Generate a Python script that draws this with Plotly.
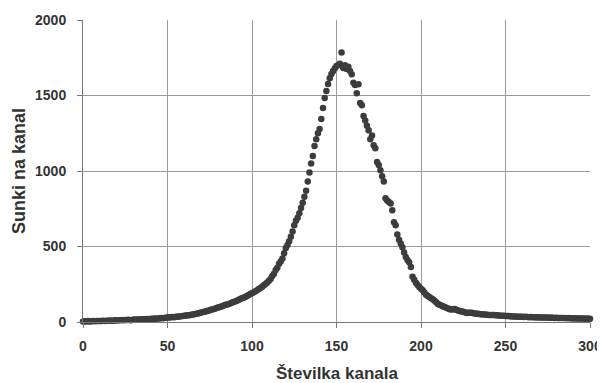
import plotly.graph_objects as go

# Channel numbers 0..300
channels = list(range(0, 301))

# Counts per channel
counts = [
    4, 5, 3, 6, 4, 5, 7, 5, 6, 6,                # 0-9
    7, 6, 8, 7, 9, 8, 10, 8, 9, 11,              # 10-19
    10, 12, 11, 13, 12, 14, 13, 15, 12, 14,      # 20-29
    16, 15, 17, 16, 18, 17, 19, 18, 20, 19,      # 30-39
    21, 20, 23, 22, 24, 23, 26, 25, 27, 28,      # 40-49
    29, 30, 31, 33, 32, 35, 34, 37, 38, 40,      # 50-59
    41, 43, 45, 44, 48, 50, 52, 54, 57, 60,      # 60-69
    63, 66, 68, 72, 75, 78, 82, 85, 88, 92,      # 70-79
    96, 99, 103, 108, 112, 116, 118, 123, 127, 132,   # 80-89
    136, 141, 145, 152, 157, 160, 166, 172, 178, 185, # 90-99
    190, 197, 204, 210, 218, 225, 234, 243, 252, 262, # 100-109
    274, 285, 305, 320, 345, 360, 385, 400, 420, 455, # 110-119
    490, 510, 535, 565, 600, 640, 670, 690, 720, 755, # 120-129
    790, 830, 870, 930, 990, 1050, 1100, 1165, 1210, 1250,   # 130-139
    1278, 1344, 1417, 1483, 1530, 1576, 1615, 1642, 1662, 1680,  # 140-149
    1695, 1700, 1710, 1785, 1682, 1700, 1675, 1690, 1662, 1640,  # 150-159
    1585, 1570, 1515, 1575, 1450, 1435, 1365, 1335, 1300, 1270,  # 160-169
    1210, 1235, 1170, 1150, 1060, 1040, 1005, 965, 930, 820,     # 170-179
    805, 795, 785, 740, 660, 640, 580, 545, 520, 495,            # 180-189
    460, 430, 410, 395, 365, 300, 280, 260, 245, 232,            # 190-199
    220, 210, 195, 180, 172, 165, 158, 150, 140, 130,            # 200-209
    120, 114, 110, 105, 100, 95, 90, 84, 82, 84,                 # 210-219
    86, 80, 76, 73, 70, 68, 64, 60, 62, 61,                      # 220-229
    62, 58, 57, 55, 54, 52, 51, 50, 49, 48,                      # 230-239
    47, 47, 46, 46, 45, 44, 43, 42, 41, 41,                      # 240-249
    40, 39, 39, 38, 37, 37, 36, 35, 35, 34,                      # 250-259
    34, 33, 34, 33, 32, 33, 31, 32, 31, 30,                      # 260-269
    31, 30, 30, 29, 30, 29, 28, 29, 28, 27,                      # 270-279
    28, 27, 27, 26, 27, 26, 25, 26, 25, 25,                      # 280-289
    24, 25, 24, 24, 23, 24, 23, 22, 23, 22,                      # 290-299
    22,                                                          # 300
]

x_ticks = [0, 50, 100, 150, 200, 250, 300]
y_ticks = [0, 500, 1000, 1500, 2000]
x_title = "Številka kanala"
y_title = "Sunki na kanal"

font_family = "Liberation Sans, Arial, sans-serif"
text_color = "#333333"
grid_color = "#9a9a9a"

fig = go.Figure()
fig.add_trace(go.Scatter(
    x=channels, y=counts, mode="markers",
    marker=dict(size=6.5, color="#3c3c3c", line=dict(width=0)),
    showlegend=False, cliponaxis=False,
))

# The page body adds an 8px offset, so the figure is 8px smaller than the window
fig.update_layout(
    width=597, height=375,
    margin=dict(l=75, r=15, t=12, b=61, autoexpand=False),
    paper_bgcolor="white", plot_bgcolor="white",
    font=dict(family=font_family, size=14, color=text_color),
)

fig.update_xaxes(
    range=[0, 300], tickvals=x_ticks, automargin=False,
    showgrid=True, gridcolor=grid_color, gridwidth=1,
    showline=True, linecolor="#777777", linewidth=1,
    ticks="outside", ticklen=5, tickcolor="#777777",
    zeroline=False,
    tickfont=dict(family=font_family, size=14, color=text_color, weight="bold"),
    ticklabelstandoff=6,
)
fig.update_yaxes(
    range=[0, 2000], tickvals=y_ticks, automargin=False,
    showgrid=True, gridcolor=grid_color, gridwidth=1,
    showline=True, linecolor="#777777", linewidth=1,
    ticks="outside", ticklen=5, tickcolor="#777777",
    zeroline=False,
    tickfont=dict(family=font_family, size=14, color=text_color, weight="bold"),
    ticklabelstandoff=8,
)

fig.add_annotation(
    text=y_title, textangle=-90, xref="paper", yref="paper",
    x=0, y=0.5, xanchor="center", yanchor="middle", xshift=-64,
    showarrow=False,
    font=dict(family=font_family, size=18, color=text_color, weight="bold"),
)
fig.add_annotation(
    text=x_title, xref="paper", yref="paper",
    x=0.5, y=0, xanchor="center", yanchor="middle", yshift=-51,
    showarrow=False,
    font=dict(family=font_family, size=17, color=text_color, weight="bold"),
)

fig.write_html("out.html")
